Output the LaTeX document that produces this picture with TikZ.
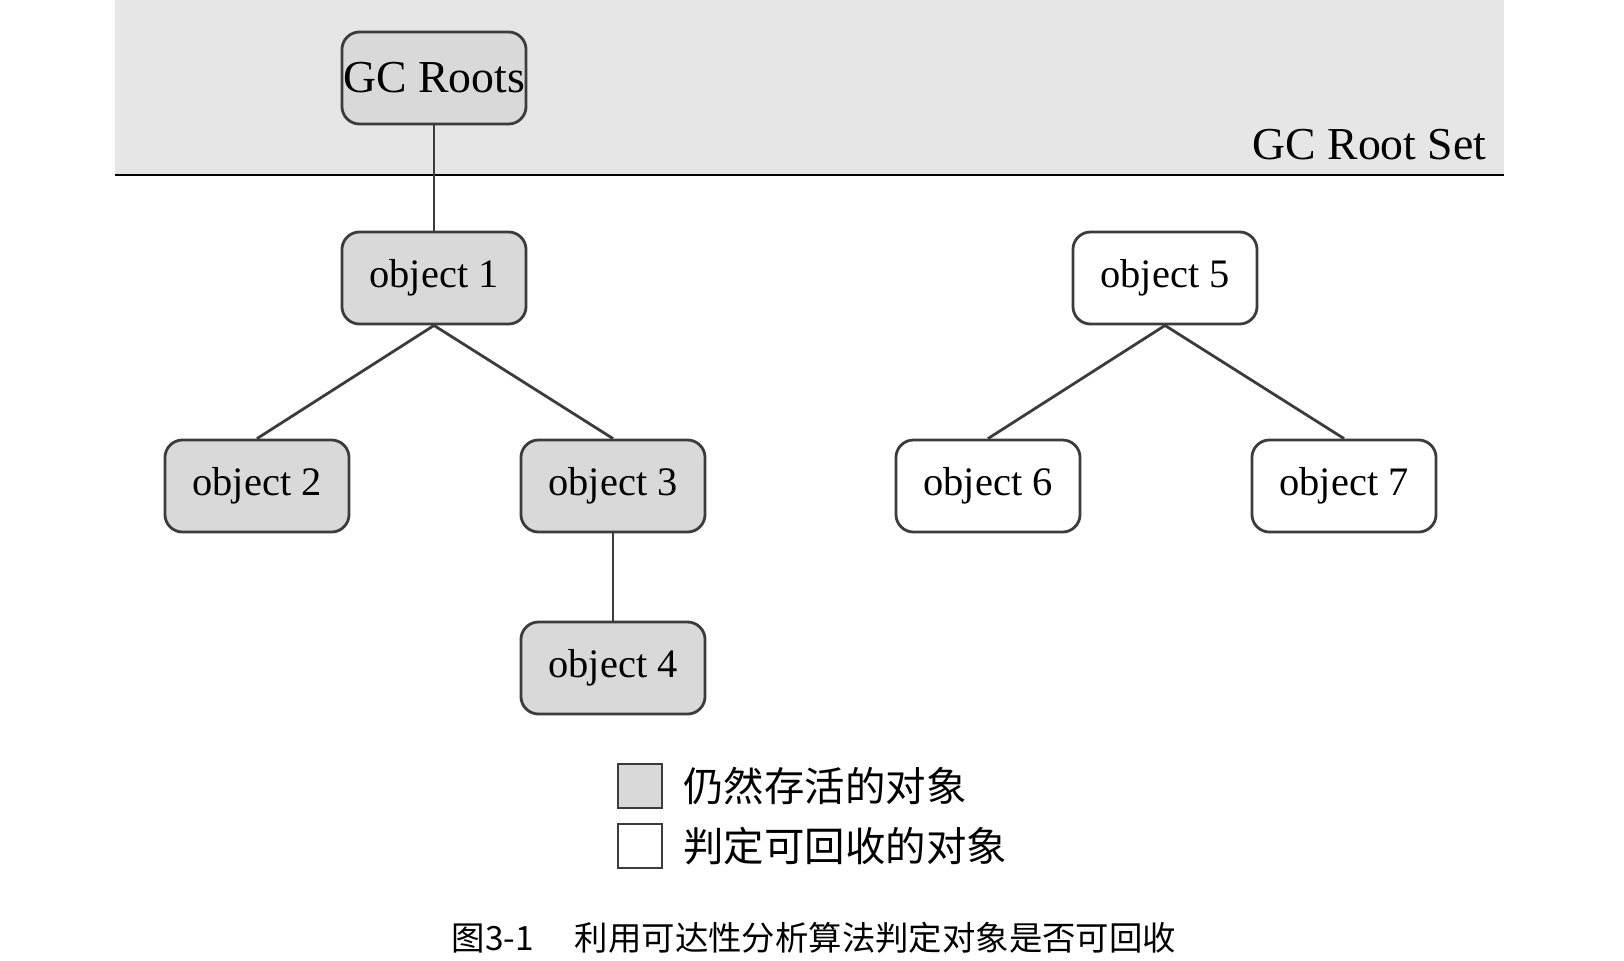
\documentclass[tikz,border=0pt]{standalone}
\usepackage{fontspec}
\setmainfont{Liberation Serif}
\newfontfamily\cjk{Noto Sans CJK SC}
\usepackage{xcolor}
\definecolor{band-grey}{RGB}{230, 230, 230}
\definecolor{live-grey}{RGB}{217, 217, 217}
\definecolor{edge-dark}{RGB}{60, 60, 60}
\usetikzlibrary{positioning}

\begin{document}
\begin{tikzpicture} [ % box styles
            x=0.01cm, y=-0.01cm, font=\fontsize{11.5}{13}\selectfont,
            obj/.style = {draw=edge-dark, thick, rounded corners=5pt, minimum width=1.84cm, minimum height=0.92cm, inner sep=0pt},
            obj-live/.style = {obj, fill=live-grey},
            obj-dead/.style = {obj, fill=white},
            key/.style = {draw=edge-dark, minimum size=0.44cm, inner sep=0pt},
            link/.style = {draw=edge-dark, thick}
        ]
        \useasboundingbox (0,0) rectangle (1624,960);

        % root set band
        \fill [band-grey] (115,0) rectangle (1504,175);
        \draw [thick] (115,175) -- (1504,175);
        \node [anchor=south east, inner sep=2pt] (setlabel) at (1494,168) {\fontsize{13}{15}\selectfont GC Root Set};

        % reachable objects
        \node [obj-live] (roots) at (434,78) {\fontsize{13}{15}\selectfont GC Roots};
        \node [obj-live] (o1) at (434,278) {object 1};
        \node [obj-live] (o2) at (257,486) {object 2};
        \node [obj-live] (o3) at (613,486) {object 3};
        \node [obj-live] (o4) at (613,668) {object 4};

        % unreachable objects
        \node [obj-dead] (o5) at (1165,278) {object 5};
        \node [obj-dead] (o6) at (988,486) {object 6};
        \node [obj-dead] (o7) at (1344,486) {object 7};

        % references
        \draw [link] (roots) -- (o1);
        \draw [link] (o1.south) -- (o2.north);
        \draw [link] (o1.south) -- (o3.north);
        \draw [link] (o3) -- (o4);
        \draw [link] (o5.south) -- (o6.north);
        \draw [link] (o5.south) -- (o7.north);

        % legend
        \node [key, fill=live-grey] (k1) at (640,786) {};
        \node [key, fill=white] (k2) at (640,846) {};
        \node [right=0.2cm of k1, inner sep=0pt] (t1) {\cjk 仍然存活的对象};
        \node [right=0.2cm of k2, inner sep=0pt] (t2) {\cjk 判定可回收的对象};

        % caption
        \node [font=\fontsize{9.5}{11}\selectfont] (cap) at (814,938) {\cjk 图3-1\quad\ 利用可达性分析算法判定对象是否可回收};
    \end{tikzpicture}
\end{document}
